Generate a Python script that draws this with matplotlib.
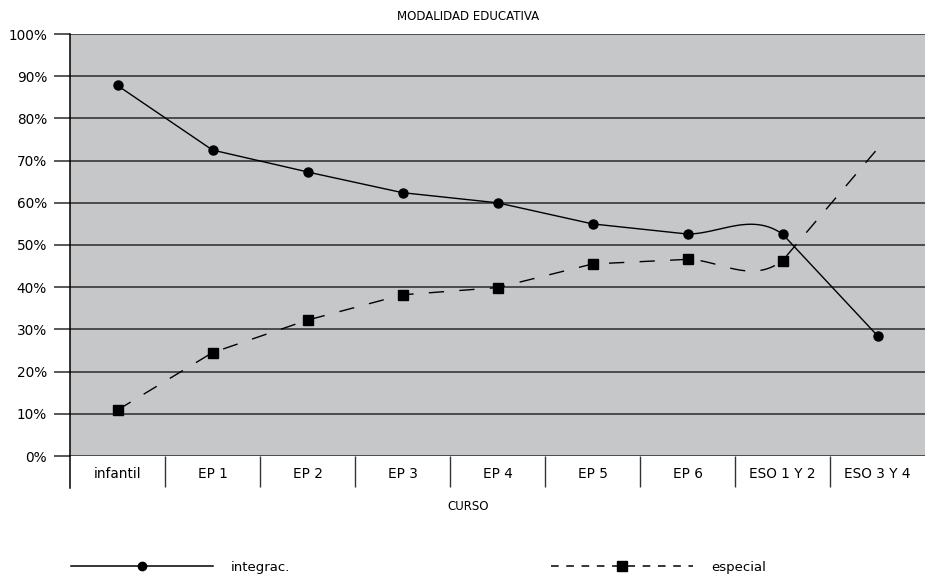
import numpy as np
import matplotlib.pyplot as plt
from matplotlib.ticker import FixedLocator, PercentFormatter

plt.rcParams['font.family'] = ['Liberation Sans Narrow', 'DejaVu Sans']

cursos = ['infantil', 'EP 1', 'EP 2', 'EP 3', 'EP 4', 'EP 5', 'EP 6', 'ESO 1 Y 2', 'ESO 3 Y 4']
integrac = [87.8, 72.5, 67.3, 62.4, 60.0, 55.0, 52.6, 52.6, 28.5]
especial = [10.9, 24.5, 32.2, 38.2, 39.9, 45.5, 46.6, 46.3, 72.8]


def smooth(y, c=0.65, jump=15, n=40):
    # mostly straight pieces; a segment bends ahead of a sharp change of slope
    y = np.asarray(y, dtype=float)
    s = np.diff(y)
    xs, ys = [], []
    for i in range(len(s)):
        m0 = s[i]
        m1 = s[i]
        if i + 1 < len(s) and abs(s[i+1] - s[i]) > jump:
            m1 = s[i] + c * (s[i+1] - s[i])
        t = np.linspace(0, 1, n, endpoint=False)
        h00 = 2*t**3 - 3*t**2 + 1
        h10 = t**3 - 2*t**2 + t
        h01 = -2*t**3 + 3*t**2
        h11 = t**3 - t**2
        xs.append(i + t)
        ys.append(h00*y[i] + h10*m0 + h01*y[i+1] + h11*m1)
    xs.append([len(y) - 1])
    ys.append([y[-1]])
    return np.concatenate(xs), np.concatenate(ys)


fig = plt.figure(figsize=(9.25, 5.8), dpi=100)
ax = fig.add_axes([70/925, 124/580, 855/925, 422/580])
ax.set_facecolor('#c6c7c9')

x = np.arange(len(cursos))
sx, sy = smooth(integrac)
ax.plot(sx, sy, color='black', lw=1.0, zorder=3)
ax.plot(x, integrac, 'o', color='black', ms=6.5, zorder=4)
sx, sy = smooth(especial)
ax.plot(sx, sy, color='black', lw=1.0, dashes=(11, 11), zorder=3)
ax.plot(x[:-1], especial[:-1], 's', color='black', ms=7, zorder=4)

ax.set_xlim(-0.5, len(cursos) - 0.5)
ax.set_ylim(0, 100)
ax.yaxis.set_major_locator(FixedLocator(np.arange(0, 101, 10)))
ax.yaxis.set_major_formatter(PercentFormatter(decimals=0))
ax.grid(axis='y', color='#2a2a2a', lw=1.1)
ax.set_axisbelow(True)

ax.set_xticks(x)
ax.set_xticklabels(cursos)
ax.xaxis.set_minor_locator(FixedLocator(np.arange(0.5, len(cursos) - 1, 1)))
ax.tick_params(axis='x', which='major', length=0, pad=8, labelsize=9.8)
ax.tick_params(axis='x', which='minor', length=22, width=1, color='#333333', direction='out')
ax.tick_params(axis='y', length=11.5, width=1.1, color='#2a2a2a', pad=5, labelsize=9.8)

for s in ['top', 'right', 'bottom']:
    ax.spines[s].set_visible(False)
ax.spines['left'].set_bounds(0, 100)
ax.spines['left'].set_linewidth(1.1)
# left spine continues down past the category labels
ax.plot([-0.5, -0.5], [0, -7.5], color='black', lw=1.1, clip_on=False)

fig.text(468/925, 1 - 16/580, 'MODALIDAD EDUCATIVA', ha='center', va='center', fontsize=8.5)
fig.text(468/925, 1 - 507/580, 'CURSO', ha='center', va='center', fontsize=8.5)

h1 = plt.Line2D([], [], color='black', lw=1.1, marker='o', ms=6)
h2 = plt.Line2D([], [], color='black', lw=1.1, dashes=(5, 5), marker='s', ms=7)
fig.legend([h1], ['integrac.'], loc='center left', bbox_to_anchor=(59/925, 1 - 567/580),
           frameon=False, handlelength=10.8, handletextpad=1.35, numpoints=1, fontsize=9.5)
fig.legend([h2], ['especial'], loc='center left', bbox_to_anchor=(539/925, 1 - 567/580),
           frameon=False, handlelength=10.8, handletextpad=1.35, numpoints=1, fontsize=9.5)

fig.savefig('out.png', dpi=100)
